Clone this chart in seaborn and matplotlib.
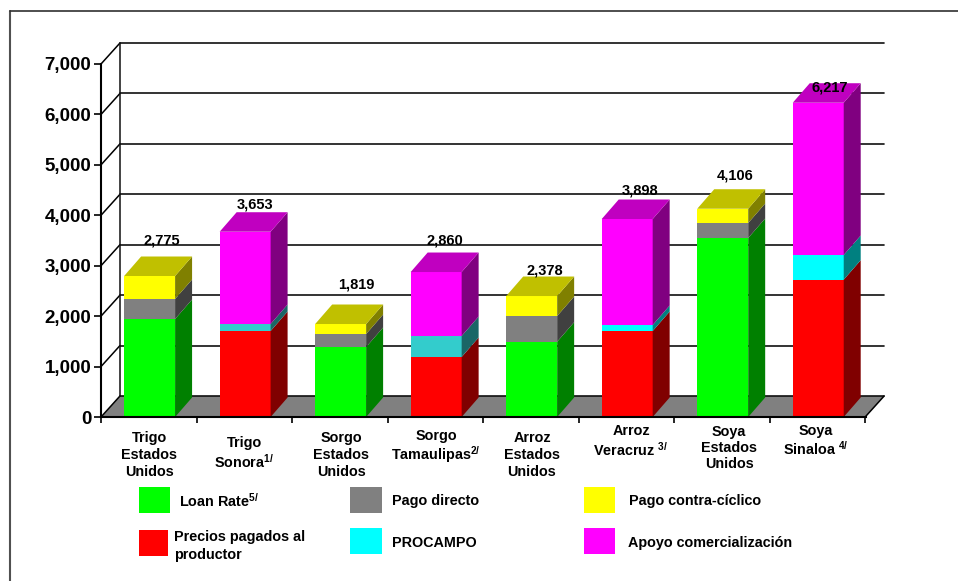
import numpy as np
import pandas as pd
import matplotlib
matplotlib.use("Agg")
import matplotlib.pyplot as plt
from matplotlib.lines import Line2D
from matplotlib.patches import Polygon, Rectangle
import seaborn as sns

cats = ["Trigo EU", "Trigo Sonora", "Sorgo EU", "Sorgo Tamaulipas",
        "Arroz EU", "Arroz Veracruz", "Soya EU", "Soya Sinaloa"]
cat_labels = ["Trigo\nEstados\nUnidos", "Trigo\nSonora$^{1/}$", "Sorgo\nEstados\nUnidos",
              "Sorgo\nTamaulipas$^{2/}$", "Arroz\nEstados\nUnidos", "Arroz\nVeracruz $^{3/}$",
              "Soya\nEstados\nUnidos", "Soya\nSinaloa $^{4/}$"]

loan_rate = [1943, 0, 1388, 0, 1493, 0, 3550, 0]
precios = [0, 1705, 0, 1190, 0, 1705, 0, 2723]
pago_directo = [397, 0, 258, 0, 510, 0, 297, 0]
procampo = [0, 139, 0, 416, 0, 119, 0, 489]
contra_ciclico = [456, 0, 198, 0, 396, 0, 283, 0]
apoyo = [0, 1830, 0, 1269, 0, 2102, 0, 3020]
totals = [2775, 3653, 1819, 2860, 2378, 3898, 4106, 6217]
# height of each stack as drawn, the printed totals above run a little short of it
stack_tops = [2796, 3674, 1844, 2875, 2399, 3926, 4130, 6232]

yticks = [0, 1000, 2000, 3000, 4000, 5000, 6000, 7000]
ytick_labels = ["0", "1,000", "2,000", "3,000", "4,000", "5,000", "6,000", "7,000"]

teal = ["#33CCCC", "#33CCCC", "#33CCCC", "#33CCCC", "#00FFFF", "#00FFFF", "#00FFFF", "#00FFFF"]
teal_side = ["#1A6666", "#1A6666", "#1A6666", "#1A6666", "#008080", "#008080", "#008080", "#008080"]

# values, front colour, side colour, top colour, from bottom to top of the stack
series = [
    (loan_rate, ["#00FF00"] * 8, ["#008000"] * 8, "#00C000"),
    (precios, ["#FF0000"] * 8, ["#800000"] * 8, "#C00000"),
    (pago_directo, ["#808080"] * 8, ["#404040"] * 8, "#606060"),
    (procampo, teal, teal_side, "#00C0C0"),
    (contra_ciclico, ["#FFFF00"] * 8, ["#808000"] * 8, "#C0C000"),
    (apoyo, ["#FF00FF"] * 8, ["#800080"] * 8, "#C000C0"),
]

plt.rcParams["mathtext.fontset"] = "custom"
plt.rcParams["mathtext.rm"] = "Liberation Sans:bold"
plt.rcParams["mathtext.default"] = "rm"
sns.set_style("white")
plt.rcParams["font.family"] = ["Liberation Sans"]
plt.rcParams["font.weight"] = "bold"
plt.rcParams["text.color"] = "black"

W, H = 958, 581
fig = plt.figure(figsize=(W / 100, H / 100), dpi=100)
ax = fig.add_axes([101 / W, 1 - 417 / H, 765 / W, 353 / H])


def figx(x):
    return x / W


def figy(y):
    return 1 - y / H


# pixel sizes turned into data units
px_x = 8 / 765
px_y = 7000 / 353
wall_dx, wall_dy = 19 * px_x, 21 * px_y
bar_dx, bar_dy = 17 * px_x, 19.5 * px_y
bar_w = 51 / 95.6
x0, x1 = -0.509, 7.491

ax.set_xlim(x0, x1)
ax.set_ylim(0, 7000)

# floor and back wall
ax.add_patch(Polygon([(x0, 0), (x1, 0), (x1 + wall_dx, wall_dy), (x0 + wall_dx, wall_dy)],
                     facecolor="#808080", edgecolor="none", clip_on=False, zorder=0.4))
for t in yticks:
    ax.plot([x0, x0 + wall_dx], [t, t + wall_dy], color="black", lw=1.1, clip_on=False, zorder=0.6)
    ax.plot([x0 + wall_dx, x1 + wall_dx], [t + wall_dy, t + wall_dy], color="#101010", lw=1.2,
            clip_on=False, zorder=0.6)
ax.plot([x0 + wall_dx, x0 + wall_dx], [wall_dy, 7000 + wall_dy], color="#101010", lw=1.1,
        clip_on=False, zorder=0.6)
ax.plot([x1, x1 + wall_dx], [0, wall_dy], color="black", lw=1.1, clip_on=False, zorder=0.6)

# stacked fronts, drawn from the tallest layer down
tops = np.cumsum(np.array([s[0] for s in series], dtype=float), axis=0)
for k in range(len(series) - 1, -1, -1):
    vals, front, side, top = series[k]
    df = pd.DataFrame({"cat": cats, "top": tops[k]})
    df.loc[np.array(vals) == 0, "top"] = np.nan
    sns.barplot(data=df, x="cat", y="top", hue="cat", order=cats, hue_order=cats,
                palette=dict(zip(cats, front)), width=bar_w, saturation=1, dodge=False,
                legend=False, ax=ax, zorder=2, edgecolor="none", linewidth=0)

# side and top faces of each bar
for i in range(len(cats)):
    right = i + bar_w / 2
    left = i - bar_w / 2
    low = 0
    last_top = None
    for k, (vals, front, side, top) in enumerate(series):
        if vals[i] == 0:
            continue
        high = low + vals[i]
        ax.add_patch(Polygon([(right, low), (right + bar_dx, low + bar_dy),
                              (right + bar_dx, high + bar_dy), (right, high)],
                             facecolor=side[i], edgecolor="none", clip_on=False, zorder=2))
        low = high
        last_top = top
    ax.add_patch(Polygon([(left, low), (right, low), (right + bar_dx, low + bar_dy),
                          (left + bar_dx, low + bar_dy)],
                         facecolor=last_top, edgecolor="none", clip_on=False, zorder=2))

# total labels, nudged as in the original
label_dx = [12, 10, 16, 9, 13, 13, 12, 12]
label_dy = [36, 27, 40, 32, 26, 29, 33, 15]
for i, total in enumerate(totals):
    ax.annotate(f"{total:,}", (i, stack_tops[i]), xytext=(label_dx[i], label_dy[i]),
                textcoords="offset pixels", ha="center", va="center", fontsize=10.5,
                fontweight="bold", color="black", annotation_clip=False, zorder=5)

sns.despine(ax=ax)
for side_name in ["left", "bottom"]:
    ax.spines[side_name].set_linewidth(1.5)
    ax.spines[side_name].set_color("black")
    ax.spines[side_name].set_zorder(3)

ax.set_xlabel("")
ax.set_ylabel("")
ax.set_yticks(yticks)
ax.set_yticklabels(ytick_labels, fontsize=13.5, fontweight="bold")
ax.tick_params(axis="y", left=True, length=5, width=1.2, pad=2, color="black", labelcolor="black")
ax.set_xticks(x0 + np.arange(9))
ax.set_xticklabels([])
ax.tick_params(axis="x", bottom=True, length=4.5, width=1.2, color="black")

# category labels sit at uneven heights in the original
label_x = [149, 244, 341, 436, 532, 631, 729, 816]
label_y = [455, 453, 455, 447, 455, 441, 448, 441]
label_sp = [1.27, 1.18, 1.27, 1.05, 1.27, 1.18, 1.22, 1.1]
for lab, x, y, sp in zip(cat_labels, label_x, label_y, label_sp):
    fig.text(figx(x), figy(y), lab, ha="center", va="center", fontsize=10.4, fontweight="bold",
             linespacing=sp)

# legend, laid out by hand like the original
legend_labels = ["Loan Rate$^{5/}$", "Precios pagados al\nproductor", "Pago directo", "PROCAMPO",
                 "Pago contra-cíclico", "Apoyo comercialización"]
legend_colors = ["#00FF00", "#FF0000", "#808080", "#00FFFF", "#FFFF00", "#FF00FF"]
swatches = [(139, 487, 31, 26), (139, 530, 29, 26), (350, 487, 32, 26), (350, 528, 32, 26),
            (584, 487, 31, 26), (584, 528, 31, 26)]
legend_text = [(179, 501), (174, 546), (392, 501), (392, 543), (629, 501), (628, 543)]
for lab, col, sw, pos in zip(legend_labels, legend_colors, swatches, legend_text):
    x, y, w, h = sw
    fig.add_artist(Rectangle((figx(x), figy(y + h)), w / W, h / H, transform=fig.transFigure,
                             facecolor=col, edgecolor="none"))
    fig.text(figx(pos[0]), figy(pos[1]), lab, ha="left", va="center", fontsize=10.4, fontweight="bold",
             linespacing=1.3)

# outer frame, open to the right and below
fig.add_artist(Line2D([figx(10), figx(10)], [0, figy(11)], color="#505050", lw=1.5))
fig.add_artist(Line2D([figx(10), 1], [figy(11), figy(11)], color="#303030", lw=1.2))

fig.savefig("out.png", dpi=100)
